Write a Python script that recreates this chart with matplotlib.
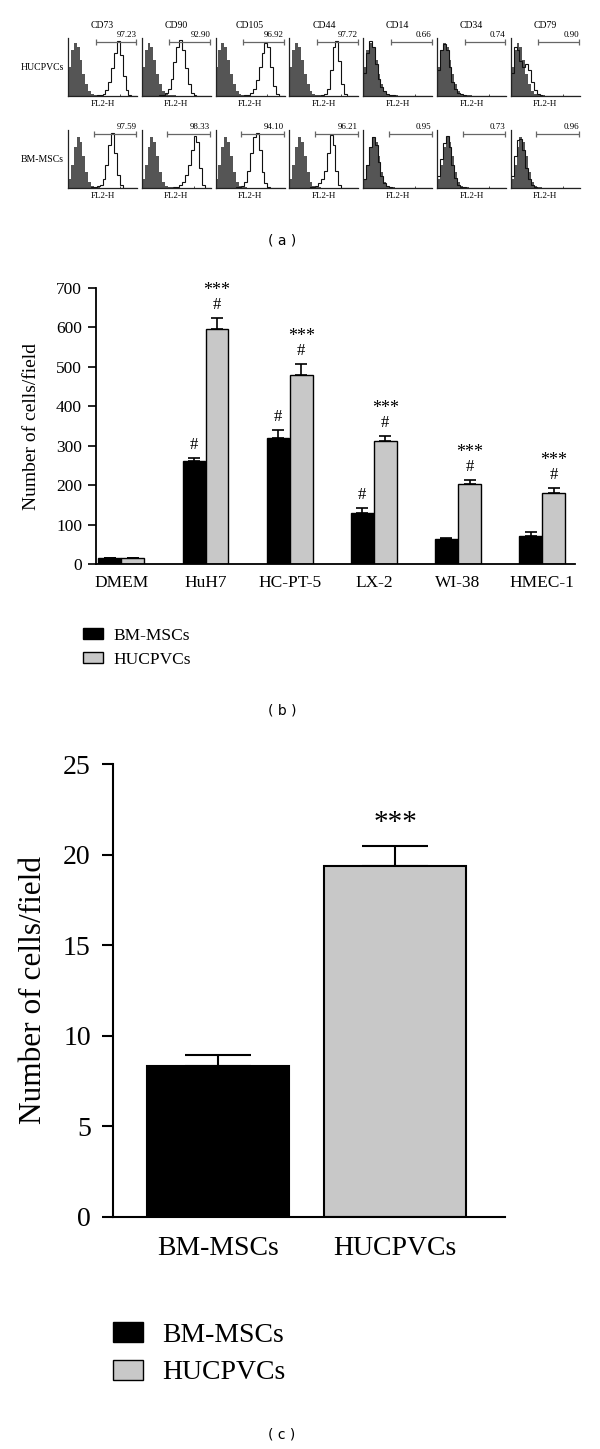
import numpy as np
import matplotlib
matplotlib.use("Agg")
import matplotlib.pyplot as plt
from matplotlib.patches import Patch

plt.rcParams['font.family'] = ['Liberation Serif', 'DejaVu Serif']

# ---- panel (a): flow cytometry histograms (heights read per bin, 24 log bins)
markers = ['CD73', 'CD90', 'CD105', 'CD44', 'CD14', 'CD34', 'CD79']
row_names = ['HUCPVCs', 'BM-MSCs']
pct_huc = ['97.23', '92.90', '96.92', '97.72', '0.66', '0.74', '0.90']
pct_bm = ['97.59', '98.33', '94.10', '96.21', '0.95', '0.73', '0.96']

iso_huc = [0.50, 0.80, 0.92, 0.85, 0.62, 0.38, 0.20, 0.09, 0.04, 0.02, 0.01, 0.01,
           0, 0, 0, 0, 0, 0, 0, 0, 0, 0, 0, 0]
iso_bm = [0.15, 0.40, 0.70, 0.88, 0.80, 0.55, 0.28, 0.10, 0.04, 0.02, 0.01, 0,
          0, 0, 0, 0, 0, 0, 0, 0, 0, 0, 0, 0]

huc_stain = [
    [0, 0, 0, 0, 0, 0, 0, 0, 0, 0, 0.01, 0.02, 0.04, 0.10, 0.25, 0.48, 0.75, 0.95, 0.70, 0.35, 0.10, 0.02, 0, 0],
    [0, 0, 0, 0, 0, 0, 0.01, 0.02, 0.05, 0.12, 0.30, 0.58, 0.85, 0.97, 0.80, 0.48, 0.20, 0.06, 0.02, 0, 0, 0, 0, 0],
    [0, 0, 0, 0, 0, 0, 0, 0, 0, 0, 0.01, 0.02, 0.05, 0.12, 0.28, 0.50, 0.75, 0.92, 0.85, 0.50, 0.18, 0.04, 0, 0],
    [0, 0, 0, 0, 0, 0, 0, 0, 0, 0, 0, 0.01, 0.03, 0.12, 0.45, 0.85, 0.95, 0.60, 0.20, 0.03, 0, 0, 0, 0],
    [0.40, 0.75, 0.95, 0.85, 0.55, 0.30, 0.15, 0.08, 0.04, 0.02, 0.01, 0, 0, 0, 0, 0, 0, 0, 0, 0, 0, 0, 0, 0],
    [0.45, 0.80, 0.90, 0.80, 0.50, 0.25, 0.12, 0.06, 0.03, 0.01, 0, 0, 0, 0, 0, 0, 0, 0, 0, 0, 0, 0, 0, 0],
    [0.40, 0.85, 0.80, 0.60, 0.50, 0.55, 0.45, 0.25, 0.10, 0.04, 0.01, 0, 0, 0, 0, 0, 0, 0, 0, 0, 0, 0, 0, 0],
]
bm_stain = [
    [0, 0, 0, 0, 0, 0, 0, 0, 0.01, 0.02, 0.03, 0.06, 0.15, 0.40, 0.75, 0.95, 0.60, 0.22, 0.05, 0, 0, 0, 0, 0],
    [0, 0, 0, 0, 0, 0, 0, 0, 0, 0, 0, 0.01, 0.02, 0.05, 0.10, 0.22, 0.40, 0.65, 0.90, 0.80, 0.35, 0.06, 0, 0],
    [0, 0, 0, 0, 0, 0, 0, 0.01, 0.02, 0.04, 0.10, 0.30, 0.60, 0.88, 0.95, 0.65, 0.28, 0.08, 0.02, 0, 0, 0, 0, 0],
    [0, 0, 0, 0, 0, 0, 0, 0.01, 0.02, 0.04, 0.08, 0.15, 0.30, 0.60, 0.92, 0.75, 0.30, 0.05, 0, 0, 0, 0, 0, 0],
    [0.15, 0.40, 0.70, 0.88, 0.75, 0.45, 0.20, 0.08, 0.03, 0.01, 0, 0, 0, 0, 0, 0, 0, 0, 0, 0, 0, 0, 0, 0],
    [0.20, 0.50, 0.78, 0.90, 0.70, 0.40, 0.18, 0.06, 0.02, 0.01, 0, 0, 0, 0, 0, 0, 0, 0, 0, 0, 0, 0, 0, 0],
    [0.20, 0.55, 0.82, 0.85, 0.65, 0.35, 0.15, 0.05, 0.02, 0, 0, 0, 0, 0, 0, 0, 0, 0, 0, 0, 0, 0, 0, 0],
]

# ---- panel (b): migration towards conditioned media
groups = ['DMEM', 'HuH7', 'HC-PT-5', 'LX-2', 'WI-38', 'HMEC-1']
bm_mean = [14, 260, 319, 130, 63, 71]
bm_sem = [0, 8, 22, 13, 4, 9]
huc_mean = [14, 596, 480, 311, 203, 179]
huc_sem = [0, 28, 27, 13, 10, 13]
bm_hash = [False, True, True, True, False, False]
huc_hash = [False, True, True, True, True, True]
huc_star = [False, True, True, True, True, True]

# ---- panel (c)
c_groups = ['BM-MSCs', 'HUCPVCs']
c_mean = [8.33, 19.37]
c_sem = [0.61, 1.10]

BLACK = '#000000'
GRAY = '#c8c8c8'
H = 1449.0
W = 600.0

fig = plt.figure(figsize=(6, 14.49), dpi=100)

# panel (a)
edges = np.logspace(0, 4, 25)
tops = [38, 130]
for r in range(2):
    iso = iso_huc if r == 0 else iso_bm
    stains = huc_stain if r == 0 else bm_stain
    pcts = pct_huc if r == 0 else pct_bm
    for i in range(7):
        left = 68 + i * 73.8
        ax = fig.add_axes([left / W, 1 - (tops[r] + 58) / H, 69 / W, 58 / H])
        ax.stairs(iso, edges, fill=True, color='#555555')
        ax.stairs(stains[i], edges, color='#111111', lw=0.8)
        ax.set_xscale('log')
        ax.set_xlim(1, 1e4)
        ax.set_ylim(0, 1)
        for s in ['top', 'right']:
            ax.spines[s].set_visible(False)
        for s in ['left', 'bottom']:
            ax.spines[s].set_linewidth(0.9)
            ax.spines[s].set_color('#222222')
        ax.set_yticks([])
        ax.tick_params(axis='x', which='both', direction='in', length=1.5, width=0.5,
                       labelbottom=False)
        ax.set_xlabel('FL2-H', fontsize=6.5, labelpad=3)
        g0 = 10 ** (4 * (0.40 if r == 0 else 0.37))
        g1 = 10 ** 3.97
        ax.hlines(0.93, g0, g1, color='#666666', lw=0.9, clip_on=False)
        ax.vlines([g0, g1], 0.88, 0.98, color='#666666', lw=0.9, clip_on=False)
        ax.text(g1, 0.99, pcts[i], ha='right', va='bottom', fontsize=6.5, clip_on=False)
        if r == 0:
            fig.text((left + 34.5) / W, 1 - 25 / H, markers[i], ha='center', va='center',
                     fontsize=7)
    fig.text(64 / W, 1 - (tops[r] + 29) / H, row_names[r], ha='right', va='center',
             fontsize=7)

fig.text(282 / W, 1 - 240 / H, '( a )', ha='center', va='center', fontsize=10,
         family='DejaVu Sans')

# panel (b)
axb = fig.add_axes([96 / W, 1 - 564 / H, 479 / W, 276 / H])
x = np.arange(len(groups))
bw = 0.27
xb = x - 0.137
xh = x + 0.137
axb.bar(xb, bm_mean, bw, color=BLACK, edgecolor=BLACK, lw=1.0, zorder=2)
axb.bar(xh, huc_mean, bw, color=GRAY, edgecolor=BLACK, lw=1.0, zorder=2)
axb.errorbar(xb, bm_mean, yerr=[np.zeros(len(groups)), bm_sem], fmt='none',
             ecolor=BLACK, elinewidth=1.2, capsize=4.5, capthick=1.2, zorder=1)
axb.errorbar(xh, huc_mean, yerr=[np.zeros(len(groups)), huc_sem], fmt='none',
             ecolor=BLACK, elinewidth=1.2, capsize=4.5, capthick=1.2, zorder=1)
for k in range(len(groups)):
    if bm_hash[k]:
        axb.text(xb[k], bm_mean[k] + bm_sem[k] + 33, '#', ha='center', va='center',
                 fontsize=12)
    if huc_hash[k]:
        axb.text(xh[k], huc_mean[k] + huc_sem[k] + 33, '#', ha='center', va='center',
                 fontsize=12)
    if huc_star[k]:
        axb.text(xh[k], huc_mean[k] + huc_sem[k] + 70, '***', ha='center', va='center',
                 fontsize=13)
axb.set_xlim(-0.30, 5.39)
axb.set_ylim(0, 700)
axb.set_yticks(range(0, 701, 100))
axb.set_xticks(x)
axb.set_xticklabels(groups)
for s in ['top', 'right']:
    axb.spines[s].set_visible(False)
for s in ['left', 'bottom']:
    axb.spines[s].set_linewidth(1.3)
axb.tick_params(axis='y', direction='out', length=6, width=1.2, labelsize=12.5, pad=4)
axb.tick_params(axis='x', length=0, labelsize=12.5, pad=8)
axb.set_ylabel('Number of cells/field', fontsize=14)
axb.yaxis.set_label_coords(-0.117, 0.5)

handles = [Patch(facecolor=BLACK, edgecolor=BLACK), Patch(facecolor=GRAY, edgecolor=BLACK)]
fig.legend(handles, ['BM-MSCs', 'HUCPVCs'], loc='upper left',
           bbox_to_anchor=(83 / W, 1 - 628 / H), frameon=False, fontsize=12.5,
           handlelength=1.15, handleheight=0.6, handletextpad=0.6, labelspacing=0.45,
           borderpad=0, borderaxespad=0)

fig.text(282 / W, 1 - 710 / H, '( b )', ha='center', va='center', fontsize=10,
         family='DejaVu Sans')

# panel (c)
axc = fig.add_axes([113 / W, 1 - 1217 / H, 392 / W, 453 / H])
xc = np.arange(len(c_groups))
axc.bar(xc, c_mean, 0.80, color=[BLACK, GRAY], edgecolor=BLACK, lw=1.5, zorder=2)
axc.errorbar(xc, c_mean, yerr=[np.zeros(2), c_sem], fmt='none', ecolor=BLACK,
             elinewidth=1.5, capsize=24, capthick=1.5, zorder=1)
axc.text(xc[1], c_mean[1] + c_sem[1] + 1.3, '***', ha='center', va='center', fontsize=21)
axc.set_xlim(-0.593, 1.621)
axc.set_ylim(0, 25)
axc.set_yticks(range(0, 26, 5))
axc.set_xticks(xc)
axc.set_xticklabels(c_groups)
for s in ['top', 'right']:
    axc.spines[s].set_visible(False)
for s in ['left', 'bottom']:
    axc.spines[s].set_linewidth(1.5)
axc.tick_params(axis='y', direction='out', length=8, width=1.5, labelsize=20, pad=8)
axc.tick_params(axis='x', length=0, labelsize=20, pad=14)
axc.set_ylabel('Number of cells/field', fontsize=22.5)
axc.yaxis.set_label_coords(-0.165, 0.5)

fig.legend(handles, ['BM-MSCs', 'HUCPVCs'], loc='upper left',
           bbox_to_anchor=(113 / W, 1 - 1322 / H), frameon=False, fontsize=20,
           handlelength=1.08, handleheight=0.72, handletextpad=0.68, labelspacing=0.44,
           borderpad=0, borderaxespad=0)

fig.text(282 / W, 1 - 1435 / H, '( c )', ha='center', va='center', fontsize=10,
         family='DejaVu Sans')

fig.savefig('out.png', dpi=100)
